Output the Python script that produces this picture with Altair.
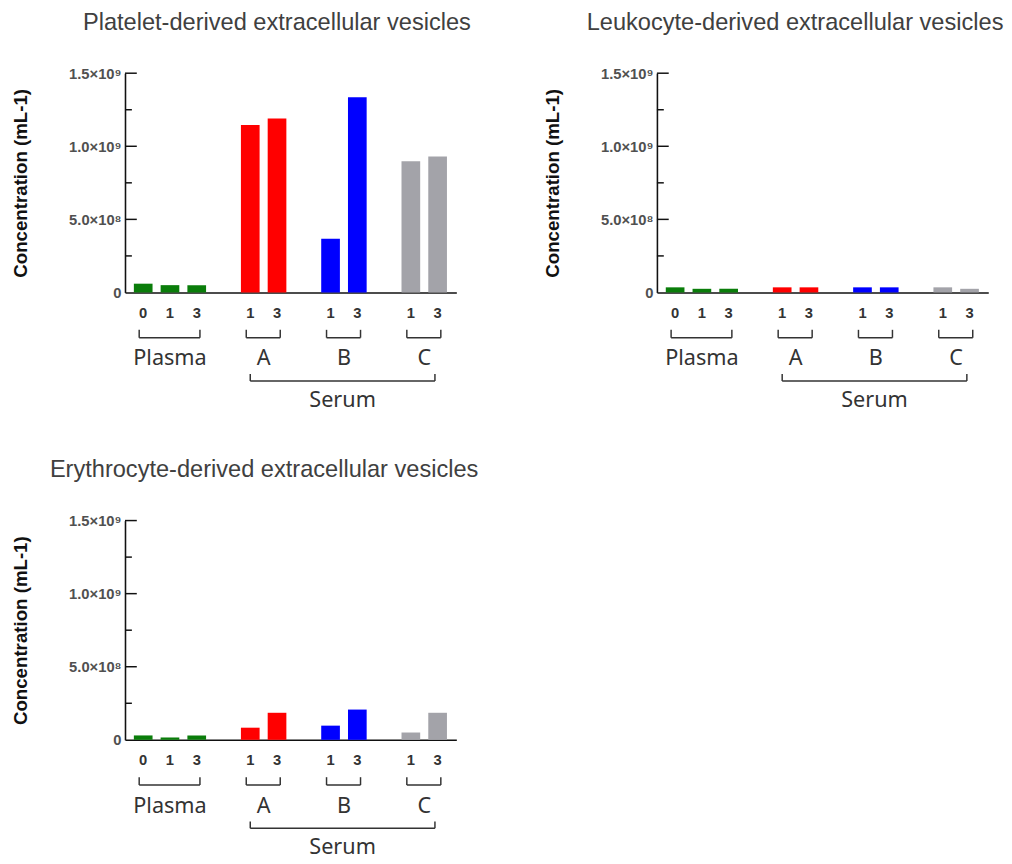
import altair as alt
import pandas as pd

# ---------------- data ----------------
groups = ["Plasma", "A", "B", "C"]
group_days = [["0", "1", "3"], ["1", "3"], ["1", "3"], ["1", "3"]]
group_colors = ["#0a7d0a", "#ff0000", "#0000ff", "#a3a3a9"]
serum_groups = ["A", "B", "C"]
serum_label = "Serum"

titles = [
    "Platelet-derived extracellular vesicles",
    "Leukocyte-derived extracellular vesicles",
    "Erythrocyte-derived extracellular vesicles",
]
platelet = [0.060e9, 0.050e9, 0.050e9, 1.145e9, 1.190e9, 0.368e9, 1.336e9, 0.898e9, 0.930e9]
leukocyte = [0.035e9, 0.025e9, 0.025e9, 0.035e9, 0.035e9, 0.035e9, 0.035e9, 0.035e9, 0.025e9]
erythrocyte = [0.030e9, 0.016e9, 0.030e9, 0.083e9, 0.185e9, 0.097e9, 0.207e9, 0.050e9, 0.185e9]

y_label_values = [0, 5e8, 1e9, 1.5e9]
y_label_texts = ["0", "5.0×10⁸", "1.0×10⁹", "1.5×10⁹"]
major_ticks = [5e8, 1e9, 1.5e9]
minor_ticks = [2.5e8, 7.5e8, 1.25e9]
y_title = "Concentration (mL-1)"

# ---------------- layout helpers ----------------
W, H = 337, 223
rows = []
brackets = []
i = 0
for gi, (g, days) in enumerate(zip(groups, group_days)):
    ps = []
    for d in days:
        p = i + gi  # one empty slot between groups
        rows.append({"group": g, "day": d, "pos": p})
        ps.append(p)
        i += 1
    brackets.append({"group": g, "start": ps[0] - 0.15, "end": ps[-1] + 0.12,
                     "center": (ps[0] + ps[-1]) / 2})
serum_pos = [r["pos"] for r in rows if r["group"] in serum_groups]
serum_df = pd.DataFrame([{"label": serum_label, "start": min(serum_pos),
                          "end": max(serum_pos) - 0.1,
                          "center": (min(serum_pos) + max(serum_pos) - 0.1) / 2}])
br_df = pd.DataFrame(brackets)
max_pos = max(r["pos"] for r in rows)

xs = alt.Scale(domain=[-0.68, max_pos + 0.7], nice=False, zero=False, padding=0)
ys = alt.Scale(domain=[0, 1.5e9], nice=False, padding=0)

label_expr = ""
for v, t in zip(y_label_values, y_label_texts):
    label_expr += f"datum.value == {v} ? '{t}' : "
label_expr += "''"

TXT = "#333333"


def panel(values, title, dx):
    df = pd.DataFrame(rows)
    df["value"] = values
    base = alt.Chart(df)
    bars = base.mark_bar(width=19).encode(
        x=alt.X("pos:Q", scale=xs,
                axis=alt.Axis(title=None, labels=False, ticks=False, grid=False,
                              domainColor="#111111", domainWidth=1.6)),
        y=alt.Y("value:Q", scale=ys,
                axis=alt.Axis(title=y_title, values=y_label_values, labelExpr=label_expr,
                              ticks=False, grid=False, domainColor="#111111", domainWidth=1.6,
                              labelFont="Liberation Sans", labelFontSize=15,
                              labelFontWeight="bold", labelColor="#505050", labelPadding=4,
                              titleFont="Liberation Sans", titleFontSize=19,
                              titleFontWeight="bold", titleColor="#111111",
                              titleX=-106, titleY=H / 2, titleBaseline="middle")),
        color=alt.Color("group:N", scale=alt.Scale(domain=groups, range=group_colors),
                        legend=None),
    )
    day_text = base.mark_text(font="Liberation Sans", fontSize=15, fontWeight="bold",
                              color=TXT, baseline="middle").encode(
        x=alt.X("pos:Q", scale=xs), y=alt.value(H + 21), text="day:N")

    tmaj = alt.Chart(pd.DataFrame({"v": major_ticks})).mark_rule(
        color="#111111", strokeWidth=1.5).encode(
        y=alt.Y("v:Q", scale=ys), x=alt.value(0), x2=alt.value(12))
    tmin = alt.Chart(pd.DataFrame({"v": minor_ticks})).mark_rule(
        color="#111111", strokeWidth=1.5).encode(
        y=alt.Y("v:Q", scale=ys), x=alt.value(0), x2=alt.value(7))

    bc = alt.Chart(br_df)
    b_h = bc.mark_rule(color="#333333", strokeWidth=1.5).encode(
        x=alt.X("start:Q", scale=xs), x2="end:Q", y=alt.value(H + 46))
    b_l = bc.mark_rule(color="#333333", strokeWidth=1.5).encode(
        x=alt.X("start:Q", scale=xs), y=alt.value(H + 38), y2=alt.value(H + 46))
    b_r = bc.mark_rule(color="#333333", strokeWidth=1.5).encode(
        x=alt.X("end:Q", scale=xs), y=alt.value(H + 38), y2=alt.value(H + 46))
    g_text = bc.mark_text(font="Noto Sans", fontSize=22, color=TXT,
                          baseline="middle").encode(
        x=alt.X("center:Q", scale=xs), y=alt.value(H + 67), text="group:N")

    sc = alt.Chart(serum_df)
    s_h = sc.mark_rule(color="#333333", strokeWidth=1.5).encode(
        x=alt.X("start:Q", scale=xs), x2="end:Q", y=alt.value(H + 90))
    s_l = sc.mark_rule(color="#333333", strokeWidth=1.5).encode(
        x=alt.X("start:Q", scale=xs), y=alt.value(H + 83), y2=alt.value(H + 90))
    s_r = sc.mark_rule(color="#333333", strokeWidth=1.5).encode(
        x=alt.X("end:Q", scale=xs), y=alt.value(H + 83), y2=alt.value(H + 90))
    s_text = sc.mark_text(font="Noto Sans", fontSize=22, color=TXT,
                          baseline="middle").encode(
        x=alt.X("center:Q", scale=xs), y=alt.value(H + 109), text="label:N")

    return alt.layer(bars, tmaj, tmin, day_text, b_h, b_l, b_r, g_text,
                     s_h, s_l, s_r, s_text).properties(
        width=W, height=H,
        title=alt.TitleParams(title, font="Liberation Sans", fontSize=24,
                              fontWeight="normal", color="#404040", dx=dx, offset=32),
    )


p1 = panel(platelet, titles[0], -14)
p2 = panel(leukocyte, titles[1], -28)
p3 = panel(erythrocyte, titles[2], -27)

chart = alt.vconcat(
    alt.hconcat(p1, p2, spacing=73),
    p3,
    spacing=49,
).properties(padding={"left": 3, "top": -4, "right": 0, "bottom": 0}).configure_view(
    stroke=None
)

chart.save("out.html", embed_options={"renderer": "svg", "actions": False})
